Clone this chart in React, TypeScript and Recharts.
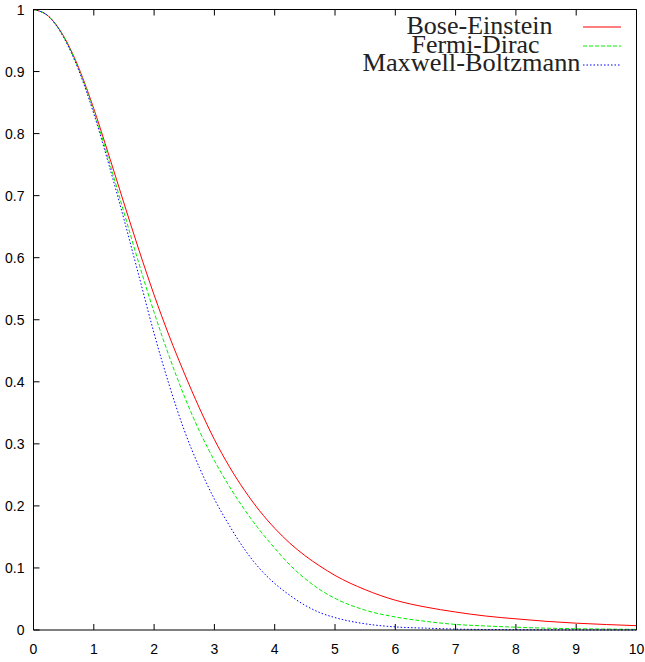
import React from 'react';
import { LineChart, Line, XAxis, YAxis } from 'recharts';

const xValues = [0, 0.25, 0.5, 0.75, 1, 1.25, 1.5, 1.75, 2, 2.25, 2.5, 2.75, 3, 3.25, 3.5, 3.75, 4, 4.25, 4.5, 4.75, 5, 5.5, 6, 6.5, 7, 7.5, 8, 8.5, 9, 9.5, 10];

const boseEinstein = [1, 0.989, 0.957, 0.906, 0.84, 0.765, 0.688, 0.612, 0.54, 0.474, 0.414, 0.358, 0.307, 0.263, 0.225, 0.192, 0.164, 0.14, 0.12, 0.103, 0.088, 0.065, 0.048, 0.037, 0.029, 0.0225, 0.018, 0.014, 0.011, 0.0088, 0.007];

const fermiDirac = [1, 0.989, 0.956, 0.904, 0.836, 0.757, 0.673, 0.59, 0.512, 0.441, 0.377, 0.321, 0.273, 0.231, 0.194, 0.161, 0.132, 0.105, 0.083, 0.065, 0.051, 0.032, 0.021, 0.014, 0.009, 0.0065, 0.0045, 0.003, 0.002, 0.0015, 0.001];

const maxwellBoltzmann = [1, 0.989, 0.955, 0.902, 0.832, 0.75, 0.662, 0.57, 0.478, 0.395, 0.322, 0.262, 0.211, 0.168, 0.13, 0.099, 0.075, 0.056, 0.04, 0.028, 0.02, 0.01, 0.005, 0.003, 0.0015, 0.0008, 0.0005, 0.0003, 0.0002, 0.0001, 0.0001];

const seriesNames = ['Bose-Einstein', 'Fermi-Dirac', 'Maxwell-Boltzmann'];
const seriesColors = ['#ff0000', '#00ee00', '#0000ff'];
const seriesDash = [undefined, '4 2', '1.5 2'];

const xTicks = [0, 1, 2, 3, 4, 5, 6, 7, 8, 9, 10];
const yTicks = [0, 0.1, 0.2, 0.3, 0.4, 0.5, 0.6, 0.7, 0.8, 0.9, 1];

const data = xValues.map((x, i) => ({
  x,
  be: boseEinstein[i],
  fd: fermiDirac[i],
  mb: maxwellBoltzmann[i],
}));

const tickFont = { fontFamily: '"Liberation Sans", Arial, sans-serif', fontSize: 14, fill: '#000' };

const fmt = (v: number) => String(Number(v.toFixed(1)));

const BottomTick = (props: any) => {
  const { x, y, payload } = props;
  return (
    <g>
      <line x1={x} x2={x} y1={y} y2={y - 6} stroke="#000" strokeWidth={1} />
      <text x={x} y={y + 24} textAnchor="middle" {...tickFont}>{fmt(payload.value)}</text>
    </g>
  );
};

const TopTick = (props: any) => {
  const { x, y } = props;
  return <line x1={x} x2={x} y1={y} y2={y + 6} stroke="#000" strokeWidth={1} />;
};

const LeftTick = (props: any) => {
  const { x, y, payload } = props;
  return (
    <g>
      <line x1={x} x2={x + 6} y1={y} y2={y} stroke="#000" strokeWidth={1} />
      <text x={x - 9} y={y} dy="0.36em" textAnchor="end" {...tickFont}>{fmt(payload.value)}</text>
    </g>
  );
};

const RightTick = (props: any) => {
  const { x, y } = props;
  return <line x1={x} x2={x - 6} y1={y} y2={y} stroke="#000" strokeWidth={1} />;
};

const legendFont = { fontFamily: '"Liberation Serif", "Times New Roman", serif', fontSize: 25, fill: '#222' };
const legendTextX = [406.5, 411.5, 362.5];
const legendTextW = [146, 128, 218];
const legendBaseline = [33.5, 52.5, 71];
const legendLineY = [27, 46, 65];

export default function App() {
  return (
    <div style={{ position: 'absolute', left: 0, top: 0, width: 645, height: 662, background: '#fff' }}>
      <LineChart
        width={645}
        height={662}
        data={data}
        margin={{ top: 8.5, right: 7.5, bottom: 31, left: 32.5 }}
      >
        <XAxis
          dataKey="x"
          type="number"
          domain={[0, 10]}
          ticks={xTicks}
          interval={0}
          height={1}
          tickSize={0}
          tickMargin={0}
          tick={<BottomTick />}
          tickLine={false}
          axisLine={{ stroke: '#000', strokeWidth: 1 }}
        />
        <XAxis
          xAxisId="top"
          orientation="top"
          dataKey="x"
          type="number"
          domain={[0, 10]}
          ticks={xTicks}
          interval={0}
          height={1}
          tickSize={0}
          tickMargin={0}
          tick={<TopTick />}
          tickLine={false}
          axisLine={{ stroke: '#000', strokeWidth: 1 }}
        />
        <YAxis
          type="number"
          domain={[0, 1]}
          ticks={yTicks}
          interval={0}
          width={1}
          tickSize={0}
          tickMargin={0}
          tick={<LeftTick />}
          tickLine={false}
          axisLine={{ stroke: '#000', strokeWidth: 1 }}
        />
        <YAxis
          yAxisId="right"
          orientation="right"
          type="number"
          domain={[0, 1]}
          ticks={yTicks}
          interval={0}
          width={1}
          tickSize={0}
          tickMargin={0}
          tick={<RightTick />}
          tickLine={false}
          axisLine={{ stroke: '#000', strokeWidth: 1 }}
        />
        <Line type="monotone" dataKey="be" name={seriesNames[0]} stroke={seriesColors[0]} strokeWidth={1} dot={false} isAnimationActive={false} />
        <Line type="monotone" dataKey="fd" name={seriesNames[1]} stroke={seriesColors[1]} strokeWidth={1} strokeDasharray={seriesDash[1]} dot={false} isAnimationActive={false} />
        <Line type="monotone" dataKey="mb" name={seriesNames[2]} stroke={seriesColors[2]} strokeWidth={1} strokeDasharray={seriesDash[2]} dot={false} isAnimationActive={false} />
      </LineChart>
      <svg width={645} height={662} style={{ position: 'absolute', left: 0, top: 0, pointerEvents: 'none' }}>
        {seriesNames.map((name, i) => (
          <g key={name}>
            <text
              x={legendTextX[i]}
              y={legendBaseline[i]}
              textLength={legendTextW[i]}
              lengthAdjust="spacingAndGlyphs"
              {...legendFont}
            >
              {name}
            </text>
            <line
              x1={583}
              x2={621}
              y1={legendLineY[i]}
              y2={legendLineY[i]}
              stroke={seriesColors[i]}
              strokeWidth={1}
              strokeDasharray={seriesDash[i]}
            />
          </g>
        ))}
      </svg>
    </div>
  );
}
